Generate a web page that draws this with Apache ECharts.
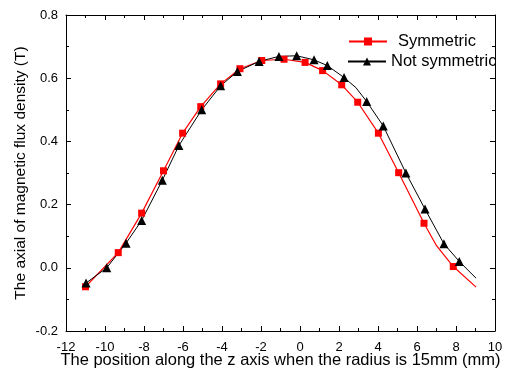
<!DOCTYPE html>
<html>
<head>
<meta charset="utf-8">
<script src="https://cdn.jsdelivr.net/npm/echarts@6/dist/echarts.min.js"></script>
<style>
  html, body { margin: 0; padding: 0; background: #fff; }
  #main { width: 505px; height: 369px; }
</style>
</head>
<body>
<div id="main"></div>
<script>
// measured points (markers)
var symX = [-11, -9.32, -8.12, -7.0, -6.02, -5.09, -4.07, -3.08, -1.96, -0.82, 0.26, 1.16, 2.14, 2.96, 4.02, 5.06, 6.36, 7.86];
var symY = [-0.06, 0.048, 0.173, 0.307, 0.426, 0.51, 0.582, 0.63, 0.656, 0.66, 0.65, 0.624, 0.579, 0.524, 0.426, 0.301, 0.141, 0.004];
// line vertices drawn without a marker
var symBendX = [7.0, 9.03];
var symBendY = [0.07, -0.061];

var notX = [-10.97, -9.91, -8.92, -8.12, -7.06, -6.21, -5.04, -4.07, -3.21, -2.1, -1.08, -0.17, 0.72, 1.4, 2.26, 3.42, 4.27, 5.43, 6.41, 7.38, 8.17];
var notY = [-0.048, 0.0, 0.078, 0.15, 0.277, 0.387, 0.5, 0.576, 0.621, 0.653, 0.669, 0.671, 0.658, 0.64, 0.602, 0.526, 0.449, 0.3, 0.186, 0.076, 0.02];
var notBendX = [2.87, 9.03];
var notBendY = [0.57, -0.033];

var xTicks = [-12, 10, 2];
var yTicks = [-0.2, 0.8, 0.2];

function build(xs, ys, bx, by) {
    var pts = [];
    for (var i = 0; i < xs.length; i++) pts.push({ value: [xs[i], ys[i]] });
    for (var j = 0; j < bx.length; j++) pts.push({ value: [bx[j], by[j]], symbol: 'none' });
    pts.sort(function (a, b) { return a.value[0] - b.value[0]; });
    return pts;
}

var font = 'Liberation Sans, Arial, sans-serif';
var myChart = echarts.init(document.getElementById('main'));

function xAx(pos, show) {
    return {
        type: 'value', position: pos, min: xTicks[0], max: xTicks[1], interval: xTicks[2],
        axisLine: { onZero: false, lineStyle: { color: '#000', width: 1 } },
        axisTick: { inside: true, length: 5, lineStyle: { color: '#000' } },
        minorTick: { show: true, splitNumber: 2, length: 3, lineStyle: { color: '#000' } },
        splitLine: { show: false },
        axisLabel: { show: show, color: '#000', fontSize: 13, fontFamily: font, margin: 10 },
        name: show ? 'The position along the z axis when the radius is 15mm (mm)' : '',
        nameLocation: 'middle', nameGap: 21,
        nameMoveOverlap: false,
        nameTextStyle: { color: '#000', fontSize: 16.5, fontFamily: font }
    };
}
function yAx(pos, show) {
    return {
        type: 'value', position: pos, min: yTicks[0], max: yTicks[1], interval: yTicks[2],
        axisLine: { onZero: false, lineStyle: { color: '#000', width: 1 } },
        axisTick: { inside: true, length: 5, lineStyle: { color: '#000' } },
        minorTick: { show: true, splitNumber: 2, length: 3, lineStyle: { color: '#000' } },
        splitLine: { show: false },
        axisLabel: { show: show, color: '#000', fontSize: 13, fontFamily: font, margin: 8,
            formatter: function (v) { return v.toFixed(1); } },
        name: show ? 'The axial of magnetic flux density (T)' : '',
        nameLocation: 'middle', nameGap: 37,
        nameMoveOverlap: false,
        nameTextStyle: { color: '#000', fontSize: 15.5, fontFamily: font }
    };
}

var option = {
    animation: false,
    backgroundColor: '#fff',
    grid: { left: 66, right: 10, top: 15, bottom: 38, containLabel: false, outerBoundsMode: 'none' },
    legend: [
        { data: ['Symmetric'], left: 343, top: 28, itemWidth: 38, itemHeight: 10,
          textStyle: { color: '#000', fontSize: 16.5, fontFamily: font, padding: [0, 0, 0, 6] } },
        { data: ['Not symmetric'], left: 342, top: 48, itemWidth: 38, itemHeight: 10,
          textStyle: { color: '#000', fontSize: 16.5, fontFamily: font } }
    ],
    xAxis: [xAx('bottom', true), xAx('top', false)],
    yAxis: [yAx('left', true), yAx('right', false)],
    series: [
        {
            name: 'Symmetric', type: 'line',
            data: build(symX, symY, symBendX, symBendY),
            symbol: 'rect', symbolSize: 7, showAllSymbol: true,
            lineStyle: { color: '#ff0000', width: 1.2 },
            itemStyle: { color: '#ff0000' }
        },
        {
            name: 'Not symmetric', type: 'line',
            data: build(notX, notY, notBendX, notBendY),
            symbol: 'triangle', symbolSize: 9, showAllSymbol: true,
            lineStyle: { color: '#000', width: 1 },
            itemStyle: { color: '#000' }
        }
    ]
};

myChart.setOption(option);
</script>
</body>
</html>
